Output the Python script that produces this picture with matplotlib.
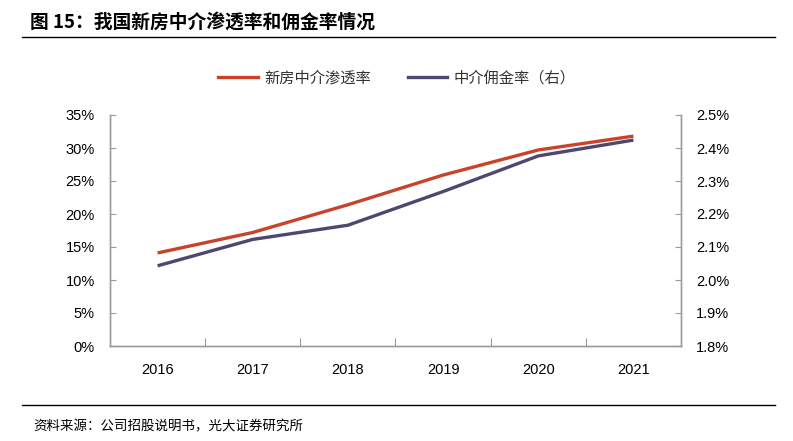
import matplotlib
matplotlib.use("Agg")
import matplotlib.pyplot as plt
from matplotlib.lines import Line2D

# data
years = ["2016", "2017", "2018", "2019", "2020", "2021"]
penetration = [14.1, 17.2, 21.4, 25.9, 29.7, 31.8]      # left axis, %
commission = [2.043, 2.123, 2.166, 2.268, 2.376, 2.424]  # right axis, %
left_ticks = [0, 5, 10, 15, 20, 25, 30, 35]
right_ticks = [1.8, 1.9, 2.0, 2.1, 2.2, 2.3, 2.4, 2.5]

red = "#C9432A"
purple = "#4E4870"
grey = "#9A9A9A"
cjk = ["Noto Sans CJK SC", "DejaVu Sans"]
num = ["Liberation Sans", "DejaVu Sans"]

fig = plt.figure(figsize=(7.93, 4.41), dpi=100)
W, H = 793, 441
ax = fig.add_axes([110 / W, 1 - 346 / H, (681 - 110) / W, (346 - 115) / H])
ax2 = ax.twinx()

x = list(range(len(years)))
ax.plot(x, penetration, color=red, lw=2.4, solid_capstyle="butt")
ax2.plot(x, commission, color=purple, lw=2.4, solid_capstyle="butt")
ax.set_zorder(ax2.get_zorder() + 1)
ax.patch.set_visible(False)

ax.set_xlim(-0.5, len(years) - 0.5)
ax.set_ylim(0, 35)
ax2.set_ylim(1.8, 2.5)
ax.set_yticks(left_ticks)
ax.set_yticklabels([f"{v}%" for v in left_ticks], family=num, fontsize=10.5)
ax2.set_yticks(right_ticks)
ax2.set_yticklabels([f"{v:.1f}%" for v in right_ticks], family=num, fontsize=10.5)

# ticks on category boundaries, labels in the middle
ax.set_xticks([i + 0.5 for i in x[:-1]])
ax.set_xticklabels([])
ax.set_xticks(x, minor=True)
ax.set_xticklabels(years, minor=True, family=num, fontsize=10.5)
ax.tick_params(axis="x", which="minor", length=0, pad=12)
ax.tick_params(axis="x", which="major", direction="in", length=6, color=grey)
ax.tick_params(axis="y", direction="in", length=4, color=grey, pad=11)
ax2.tick_params(axis="y", direction="in", length=4, color=grey, pad=11)

for a in (ax, ax2):
    a.spines["top"].set_visible(False)
    for s in ("left", "right", "bottom"):
        a.spines[s].set_color(grey)
        a.spines[s].set_linewidth(1.0)

handles = [Line2D([], [], color=red, lw=2.4), Line2D([], [], color=purple, lw=2.4)]
leg = fig.legend(handles, ["新房中介渗透率", "中介佣金率（右）"], loc="center",
                 bbox_to_anchor=(0.5 + 0.5 / W, 1 - 78 / H), ncol=2, frameon=False,
                 prop={"family": cjk, "size": 11}, handlelength=2.6,
                 columnspacing=2.4, handletextpad=0.4)
for t in leg.get_texts():
    t.set_color("#333333")

fig.text(30 / W, 1 - 22 / H, "图 15：我国新房中介渗透率和佣金率情况", family=cjk,
         fontsize=13.5, fontweight="bold", va="center", ha="left")
fig.add_artist(Line2D([22 / W, 775 / W], [1 - 37 / H, 1 - 37 / H], color="black", lw=1))
fig.add_artist(Line2D([22 / W, 775 / W], [1 - 405 / H, 1 - 405 / H], color="black", lw=1))
fig.text(33 / W, 1 - 426 / H, "资料来源：公司招股说明书，光大证券研究所", family=cjk,
         fontsize=9.7, va="center", ha="left")

fig.savefig("out.png", dpi=100)
